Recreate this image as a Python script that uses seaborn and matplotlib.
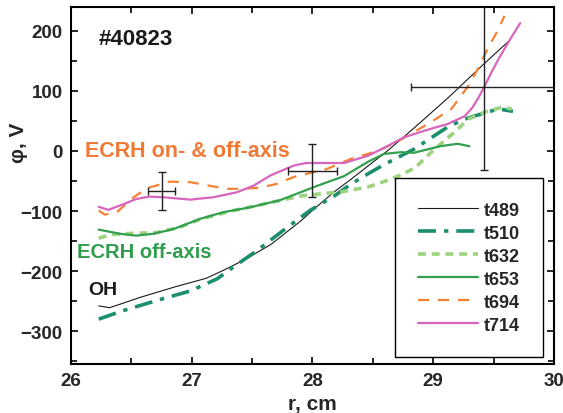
import matplotlib
matplotlib.use("Agg")
import matplotlib.pyplot as plt
from matplotlib.ticker import MultipleLocator
import seaborn as sns
import pandas as pd

# Plasma potential profiles for shot #40823
r_t489 = [26.23, 26.32, 26.41, 26.57, 26.85, 27.12, 27.26, 27.45, 27.66, 27.9, 28.04,
          28.18, 28.32, 28.46, 28.62, 28.84, 29.12, 29.42, 29.62]
phi_t489 = [-258, -261, -255, -244, -227, -212, -199, -180, -155, -117, -92,
            -68, -47, -25, 0, 38, 88, 145, 182]

r_t510 = [26.23, 26.43, 26.71, 26.99, 27.21, 27.34, 27.54, 27.76, 27.98, 28.18, 28.32,
          28.46, 28.59, 28.84, 29.12, 29.26, 29.42, 29.54, 29.66]
phi_t510 = [-280, -266, -249, -233, -213, -194, -166, -132, -99, -75, -55,
            -38, -23, 3, 40, 53, 63, 70, 66]

r_t632 = [26.23, 26.35, 26.52, 26.71, 26.9, 27.08, 27.35, 27.63, 27.9, 28.04, 28.24,
          28.46, 28.65, 28.75, 28.85, 29.01, 29.18, 29.29, 29.43, 29.57, 29.65]
phi_t632 = [-145, -139, -137, -136, -127, -113, -99, -87, -75, -72, -68,
            -60, -47, -38, -28, 3, 32, 53, 65, 73, 70]

r_t653 = [26.23, 26.41, 26.54, 26.68, 26.85, 27.07, 27.26, 27.48, 27.73, 28.04, 28.26,
          28.46, 28.59, 28.73, 28.84, 29.06, 29.2, 29.3]
phi_t653 = [-131, -138, -141, -138, -130, -113, -102, -94, -82, -58, -42,
            -18, -5, -2, -3, 8, 12, 8]

r_t694 = [26.23, 26.28, 26.38, 26.52, 26.63, 26.82, 26.99, 27.15, 27.29, 27.43, 27.57,
          27.7, 27.85, 28.12, 28.32, 28.54, 28.7, 28.98, 29.15, 29.29, 29.37, 29.45,
          29.54, 29.59]
phi_t694 = [-99, -106, -102, -77, -62, -51, -52, -58, -63, -63, -61,
            -55, -43, -30, -13, 0, 15, 48, 70, 108, 137, 170,
            203, 225]

r_t714 = [26.23, 26.31, 26.43, 26.54, 26.65, 26.76, 26.99, 27.18, 27.37, 27.51, 27.65,
          27.73, 27.85, 27.95, 28.26, 28.46, 28.62, 28.76, 28.98, 29.12, 29.26, 29.32,
          29.37, 29.42, 29.48, 29.54, 29.64, 29.72]
phi_t714 = [-93, -98, -89, -80, -76, -77, -81, -77, -69, -58, -41,
            -34, -24, -20, -20, -8, 8, 23, 37, 45, 58, 71,
            87, 106, 130, 153, 187, 213]

# Representative error bars
err_r = [26.75, 28.0, 29.42]
err_phi = [-67, -33, 107]
err_dr = [0.11, 0.2, 0.6]
err_dphi = [32, 44, 139]

series = [
    ("t489", r_t489, phi_t489, "#1a1a1a", 0.8, "-"),
    ("t510", r_t510, phi_t510, "#1b8f6e", 2.6, (0, (5, 2.2, 1.2, 2.2))),
    ("t632", r_t632, phi_t632, "#9dd37f", 2.6, (0, (2.2, 1.6))),
    ("t653", r_t653, phi_t653, "#33a04f", 1.6, "-"),
    ("t694", r_t694, phi_t694, "#f58234", 1.6, (0, (5, 4))),
    ("t714", r_t714, phi_t714, "#d764bd", 1.6, "-"),
]

sns.set_theme(style="ticks")
plt.rcParams["font.family"] = ["Liberation Sans", "DejaVu Sans"]
plt.rcParams["font.weight"] = "bold"

fig = plt.figure(figsize=(5.63, 4.14), dpi=100)
ax = fig.add_axes([0.126, 0.118, 0.858, 0.863])

for name, r, phi, color, lw, ls in series:
    df = pd.DataFrame({"r": r, "phi": phi})
    sns.lineplot(data=df, x="r", y="phi", ax=ax, color=color, linewidth=lw,
                 linestyle=ls, label=name, sort=False, estimator=None)

ax.errorbar(err_r, err_phi, xerr=err_dr, yerr=err_dphi, fmt="none",
            ecolor="#222222", elinewidth=1.0, capsize=3, capthick=1.0, zorder=5)

ax.set_xlim(26, 30)
ax.set_ylim(-355, 240)
ax.xaxis.set_major_locator(MultipleLocator(1))
ax.xaxis.set_minor_locator(MultipleLocator(0.5))
ax.yaxis.set_major_locator(MultipleLocator(100))
ax.yaxis.set_minor_locator(MultipleLocator(50))
ax.tick_params(which="both", direction="in", top=True, right=True,
               color="black", width=1.2)
ax.tick_params(which="major", length=5, labelsize=13.5, pad=6)
ax.tick_params(which="minor", length=4)
for lab in ax.get_xticklabels() + ax.get_yticklabels():
    lab.set_fontweight("bold")
for sp in ax.spines.values():
    sp.set_linewidth(1.5)
    sp.set_color("black")

ax.set_xlabel("r, cm", fontsize=15, fontweight="bold", labelpad=3)
ax.set_ylabel("")
fig.text(0.032, 0.655, "φ, V", rotation=90, fontsize=15, fontweight="bold",
         ha="center", va="center")

ax.text(26.23, 187, "#40823", fontsize=16, fontweight="bold", color="#1a1a1a",
        va="center", ha="left")
ax.text(26.12, 0, "ECRH on- & off-axis", fontsize=15.5, fontweight="bold",
        color="#f07a35", va="center", ha="left")
ax.text(26.05, -168, "ECRH off-axis", fontsize=14.5, fontweight="bold",
        color="#2e9e4c", va="center", ha="left")
ax.text(26.14, -230, "OH", fontsize=14, fontweight="bold", color="#1a1a1a",
        va="center", ha="left")

leg = ax.legend(loc="lower right", bbox_to_anchor=(0.977, 0.02), frameon=True,
                fancybox=False, edgecolor="black", framealpha=1,
                prop={"weight": "bold", "size": 13}, handlelength=3.3,
                handletextpad=0.3, labelspacing=0.33, borderpad=1.3,
                borderaxespad=0)
leg.get_frame().set_linewidth(1.0)

fig.savefig("out.png", dpi=100)
